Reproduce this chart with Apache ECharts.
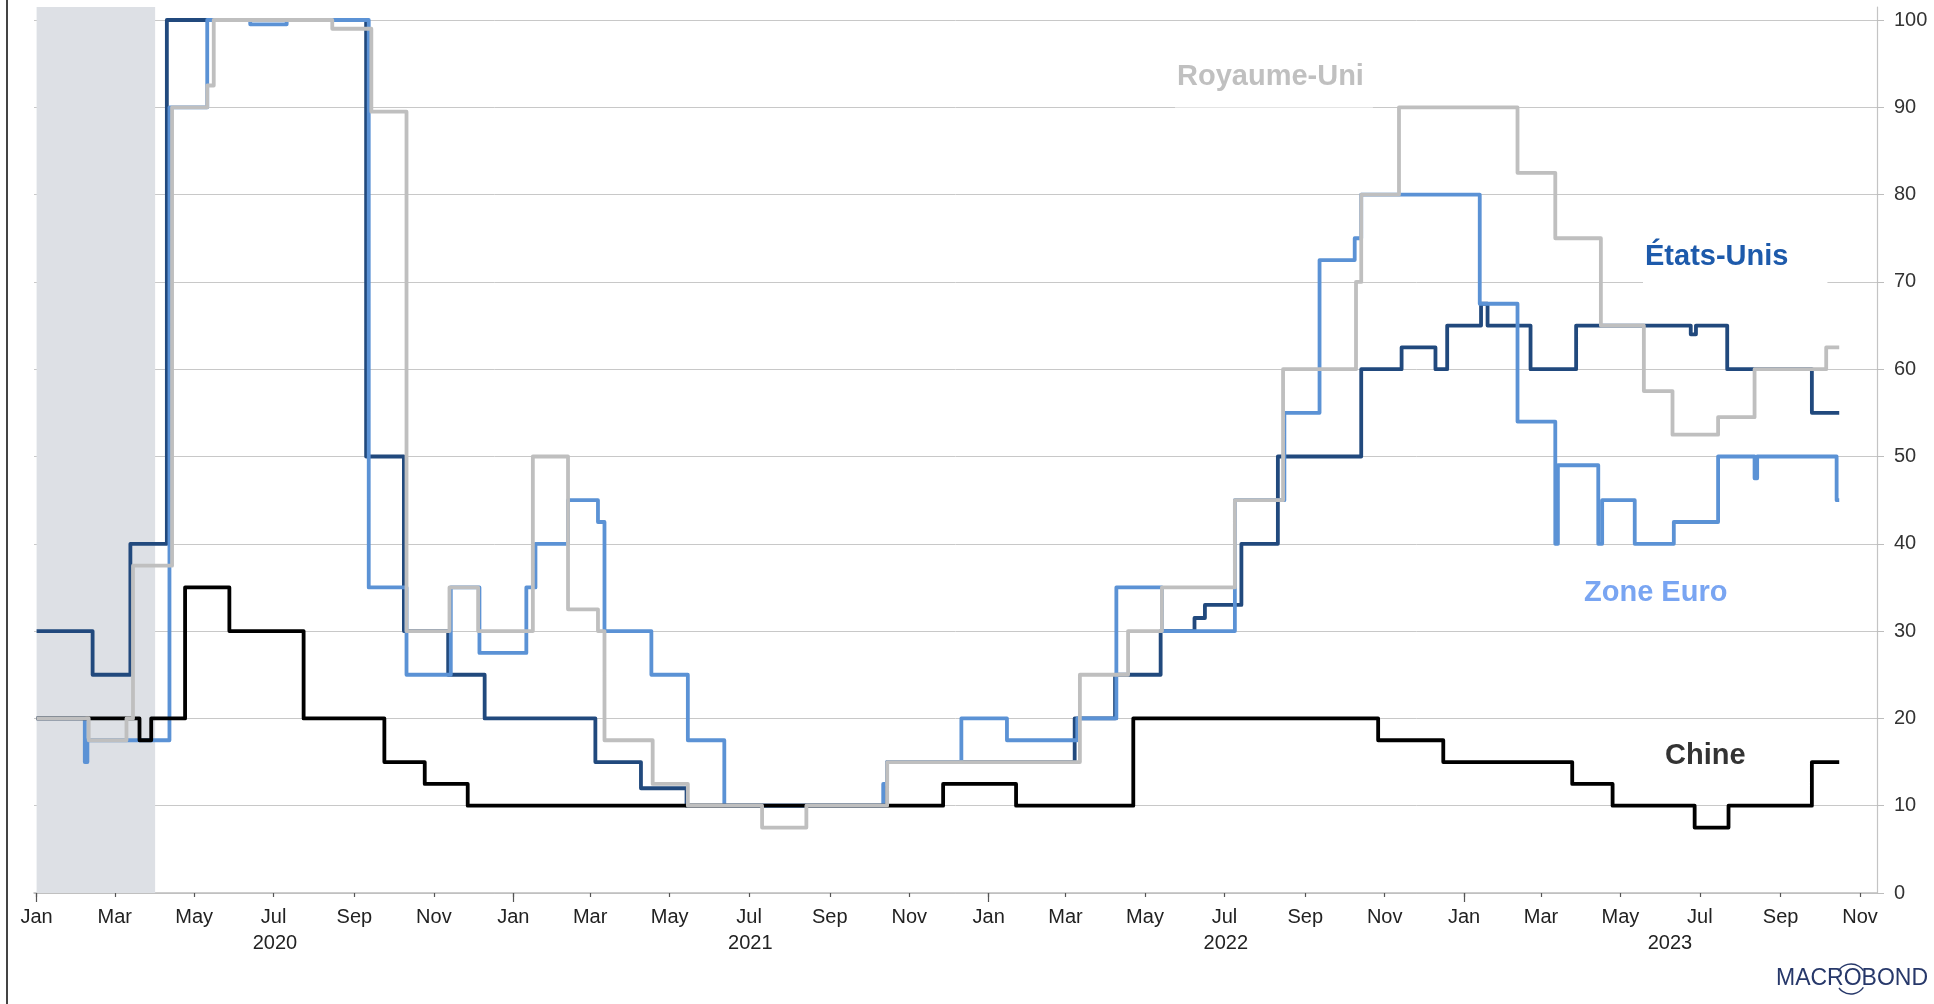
<!DOCTYPE html>
<html>
<head>
<meta charset="utf-8">
<title>Chart</title>
<script src="https://cdn.jsdelivr.net/npm/echarts@6.0.0/dist/echarts.min.js"></script>
<style>
html,body{margin:0;padding:0;background:#fff;}
#chart{width:1934px;height:1004px;}
</style>
</head>
<body>
<div id="chart"></div>
<script>
// États-Unis
var usDates = ['2020-01-01','2020-02-13','2020-03-13','2020-04-10','2020-09-10','2020-10-09','2020-11-12','2020-12-10',
  '2021-03-05','2021-04-09','2021-05-14','2021-10-15',
  '2022-03-08','2022-04-08','2022-05-13','2022-06-08','2022-06-16','2022-07-14','2022-08-11','2022-10-14','2022-11-14','2022-12-10','2022-12-19',
  '2023-01-14','2023-01-19','2023-02-21','2023-03-28','2023-06-24','2023-06-28','2023-07-22','2023-09-25','2023-10-16'];
var usValues = [30,25,40,100,50,30,25,20, 15,12,10,15, 20,25,30,31.5,33,40,50,60,62.5,60,65, 67.5,65,60,65,64,65,60,55,55];

// Zone Euro
var ezDates = ['2020-01-01','2020-02-07','2020-02-09','2020-04-12','2020-05-11','2020-06-13','2020-07-11','2020-09-12','2020-10-11','2020-11-14','2020-12-06',
  '2021-01-11','2021-01-18','2021-02-12','2021-03-07','2021-03-12','2021-04-17','2021-05-15','2021-06-12','2021-10-12','2021-10-15','2021-12-11',
  '2022-01-15','2022-03-10','2022-04-09','2022-05-14','2022-07-09','2022-08-16','2022-09-12','2022-10-09','2022-10-14',
  '2023-01-13','2023-02-11','2023-03-12','2023-03-14','2023-04-14','2023-04-17','2023-05-12','2023-06-11','2023-07-15','2023-08-12','2023-08-14','2023-10-14','2023-10-16'];
var ezValues = [20,15,17.5,90,100,99.5,100,35,25,35,27.5, 35,40,45,42.5,30,25,17.5,10,12.5,15,20, 17.5,20,35,30,45,55,72.5,75,80, 67.5,54,40,49,40,45,40,42.5,50,47.5,50,45,45];

// Royaume-Uni
var ukDates = ['2020-01-01','2020-02-10','2020-03-10','2020-03-15','2020-04-14','2020-05-11','2020-05-16','2020-08-15','2020-09-14','2020-10-11','2020-11-13','2020-12-05',
  '2021-01-16','2021-02-12','2021-03-07','2021-03-12','2021-04-18','2021-05-15','2021-07-11','2021-08-14','2021-10-15',
  '2022-03-12','2022-04-18','2022-05-14','2022-07-09','2022-08-15','2022-10-10','2022-10-14','2022-11-12',
  '2023-02-11','2023-03-12','2023-04-16','2023-05-19','2023-06-10','2023-07-15','2023-08-12','2023-10-06','2023-10-16'];
var ukValues = [20,17.5,20,37.5,90,92.5,100,99,89.5,30,35,30, 50,32.5,30,17.5,12.5,10,7.5,10,15, 25,30,35,45,60,70,80,90, 82.5,75,65,57.5,52.5,54.5,60,62.5,62.5];

// Chine
var cnDates = ['2020-01-01','2020-03-20','2020-03-29','2020-04-24','2020-05-28','2020-07-24','2020-09-24','2020-10-25','2020-11-27',
  '2021-11-27','2022-01-22','2022-04-22','2022-10-27','2022-12-16',
  '2023-03-25','2023-04-25','2023-06-27','2023-07-23','2023-09-25','2023-10-16'];
var cnValues = [20,17.5,20,35,30,20,15,12.5,10, 12.5,10,20,17.5,15, 12.5,10,7.5,10,15,15];

// shaded period
var shadeStart = '2020-01-01';
var shadeEnd = '2020-04-01';

// axis ticks and labels
var monthTickDates = ['2020-01-01','2020-03-01','2020-05-01','2020-07-01','2020-09-01','2020-11-01',
  '2021-01-01','2021-03-01','2021-05-01','2021-07-01','2021-09-01','2021-11-01',
  '2022-01-01','2022-03-01','2022-05-01','2022-07-01','2022-09-01','2022-11-01',
  '2023-01-01','2023-03-01','2023-05-01','2023-07-01','2023-09-01','2023-11-01'];
var monthTickLabels = ['Jan','Mar','May','Jul','Sep','Nov','Jan','Mar','May','Jul','Sep','Nov',
  'Jan','Mar','May','Jul','Sep','Nov','Jan','Mar','May','Jul','Sep','Nov'];
var janTickDates = ['2020-01-01','2021-01-01','2022-01-01','2023-01-01'];
var yearLabelDates = ['2020-07-02','2021-07-02','2022-07-02','2023-06-08'];
var yearLabels = ['2020','2021','2022','2023'];

var xMin = '2019-12-30';
var xMax = '2023-11-14';

// dates are used as plain day timestamps on a value axis
function ts(d){ var p = d.split('-'); return Date.UTC(+p[0], +p[1] - 1, +p[2]); }
function toTs(list){ return list.map(ts); }
function pairs(ds, vs){ return ds.map(function(d, i){ return [ts(d), vs[i]]; }); }
function labelFor(tsList, labels, v){
  var best = 0;
  for (var i = 1; i < tsList.length; i++) {
    if (Math.abs(tsList[i] - v) < Math.abs(tsList[best] - v)) best = i;
  }
  return labels[best];
}

var monthTs = toTs(monthTickDates);
var janTs = toTs(janTickDates);
var yearTs = toTs(yearLabelDates);
var FONT = '"Liberation Sans", Arial, sans-serif';
var LW = 3.8;

var chart = echarts.init(document.getElementById('chart'));
chart.setOption({
  animation: false,
  backgroundColor: '#fff',
  grid: [
    {left: 34, right: 57, top: 7, bottom: 111},
    {left: 34, right: 57, top: 20, bottom: 111}
  ],
  xAxis: [
    {gridIndex: 1, type: 'value', min: ts(xMin), max: ts(xMax), position: 'bottom',
     axisLine: {lineStyle: {color: '#bdbdbd', width: 1.5}},
     axisTick: {customValues: monthTs, length: 4, lineStyle: {color: '#555', width: 1.2}},
     axisLabel: {customValues: monthTs, margin: 14, fontSize: 20, color: '#222', fontFamily: FONT, lineHeight: 20,
       formatter: function(v){ return labelFor(monthTs, monthTickLabels, v); }},
     splitLine: {show: false}},
    {gridIndex: 1, type: 'value', min: ts(xMin), max: ts(xMax), position: 'bottom',
     axisLine: {show: false},
     axisTick: {customValues: janTs, length: 9, lineStyle: {color: '#555', width: 1.2}},
     axisLabel: {customValues: yearTs, margin: 40, fontSize: 20, color: '#222', fontFamily: FONT, lineHeight: 20,
       formatter: function(v){ return labelFor(yearTs, yearLabels, v); }},
     splitLine: {show: false}},
    {gridIndex: 0, type: 'value', min: ts(xMin), max: ts(xMax), show: false}
  ],
  yAxis: [
    {gridIndex: 1, type: 'value', min: 0, max: 100, interval: 10, position: 'right',
     axisLine: {show: false},
     axisTick: {show: true, length: 7, lineStyle: {color: '#bdbdbd'}},
     axisLabel: {margin: 17, fontSize: 20, color: '#333', fontFamily: FONT},
     splitLine: {lineStyle: {color: '#c8c8c8', width: 1}}},
    {gridIndex: 0, type: 'value', min: 0, max: 1, position: 'right',
     axisLine: {show: true, lineStyle: {color: '#c4c4c4', width: 1.2}},
     axisTick: {show: false}, axisLabel: {show: false}, splitLine: {show: false}}
  ],
  series: [
    {name: 'shade', type: 'line', xAxisIndex: 2, yAxisIndex: 1, data: [], z: -1, silent: true,
     markArea: {silent: true, itemStyle: {color: '#dde0e5'},
       data: [[{xAxis: ts(shadeStart)}, {xAxis: ts(shadeEnd)}]]}},
    {name: 'États-Unis', type: 'line', step: 'end', xAxisIndex: 0, yAxisIndex: 0, showSymbol: false, z: 2,
     lineStyle: {color: '#21497d', width: LW, join: 'round'}, data: pairs(usDates, usValues)},
    {name: 'Zone Euro', type: 'line', step: 'end', xAxisIndex: 0, yAxisIndex: 0, showSymbol: false, z: 3,
     lineStyle: {color: '#5b92d5', width: LW, join: 'round'}, data: pairs(ezDates, ezValues)},
    {name: 'Chine', type: 'line', step: 'end', xAxisIndex: 0, yAxisIndex: 0, showSymbol: false, z: 4,
     lineStyle: {color: '#000000', width: LW, join: 'round'}, data: pairs(cnDates, cnValues)},
    {name: 'Royaume-Uni', type: 'line', step: 'end', xAxisIndex: 0, yAxisIndex: 0, showSymbol: false, z: 5,
     lineStyle: {color: '#bfbfbf', width: LW, join: 'round'}, data: pairs(ukDates, ukValues)}
  ],
  graphic: [
    {type: 'line', z: 50, shape: {x1: 7, y1: 0, x2: 7, y2: 1004}, style: {stroke: '#444', lineWidth: 2}},
    {type: 'text', z: 50, x: 1175, y: 77,
     style: {text: 'Royaume-Uni', fill: '#c0c0c0', font: 'bold 29px ' + FONT, align: 'left', verticalAlign: 'middle',
       backgroundColor: '#fff', padding: [16, 9, 16, 2]}},
    {type: 'text', z: 50, x: 1643, y: 257,
     style: {text: 'États-Unis', fill: '#1d5aab', font: 'bold 29px ' + FONT, align: 'left', verticalAlign: 'middle',
       backgroundColor: '#fff', padding: [14, 39, 14, 2]}},
    {type: 'text', z: 50, x: 1584, y: 593,
     style: {text: 'Zone Euro', fill: '#79a5f2', font: 'bold 29px ' + FONT, align: 'left', verticalAlign: 'middle'}},
    {type: 'text', z: 50, x: 1665, y: 756,
     style: {text: 'Chine', fill: '#333333', font: 'bold 29px ' + FONT, align: 'left', verticalAlign: 'middle'}},
    {type: 'text', z: 50, x: 1776, y: 979,
     style: {text: 'MACROBOND', fill: '#27386a', font: '23px ' + FONT, align: 'left', verticalAlign: 'middle'}},
    {type: 'arc', z: 50, shape: {cx: 1851, cy: 979, r: 15, startAngle: 3.7, endAngle: 5.7},
     style: {stroke: '#27386a', lineWidth: 1.4, fill: null}},
    {type: 'arc', z: 50, shape: {cx: 1851, cy: 979, r: 15, startAngle: 0.6, endAngle: 2.5},
     style: {stroke: '#27386a', lineWidth: 1.4, fill: null}}
  ]
});
</script>
</body>
</html>
